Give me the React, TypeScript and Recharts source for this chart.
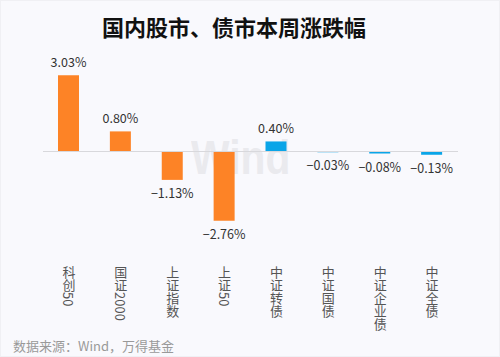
import { BarChart, Bar, XAxis, YAxis, Cell, LabelList, ReferenceLine } from 'recharts'

const categories = ['科创50', '国证2000', '上证指数', '上证50', '中证转债', '中证国债', '中证企业债', '中证全债']
const changes = [3.03, 0.8, -1.13, -2.76, 0.4, -0.03, -0.08, -0.13]
// first four are stock indexes, rest are bond indexes
const stockCount = 4

const data = categories.map((name, i) => ({ name, value: changes[i] }))

const FONT = '"Noto Sans CJK SC", "Noto Sans", sans-serif'

function VerticalTick(props: any) {
  const { x, y, payload } = props
  return (
    <text
      x={x}
      y={y + 6}
      fill="#555"
      fontSize={13}
      fontFamily={FONT}
      style={{ writingMode: 'vertical-rl' }}
    >
      {payload.value}
    </text>
  )
}

function ValueLabel(props: any) {
  const { x, y, width, height, value } = props
  const isNeg = value < 0
  const bottom = y + height
  const ty = isNeg ? Math.max(y, bottom) + 18 : Math.min(y, bottom) - 8
  const text = (isNeg ? '\u2212' : '') + Math.abs(value).toFixed(2) + '%'
  return (
    <text x={x + width / 2} y={ty} textAnchor="middle" fontSize={12.5} fill="#333" fontFamily={FONT}>
      {text}
    </text>
  )
}

export default function App() {
  return (
    <div style={{ position: 'relative', width: 500, height: 357, background: '#f9f9fd', boxSizing: 'border-box', border: '1px solid #f0f0f4' }}>
      <style>{`body{margin:0}`}</style>
      <div
        style={{
          position: 'absolute', left: 0, top: 10, width: 466, textAlign: 'center',
          fontSize: 22, fontWeight: 700, color: '#111', fontFamily: FONT, lineHeight: '30px'
        }}
      >
        国内股市、债市本周涨跌幅
      </div>
      {/* Wind watermark */}
      <div
        style={{
          position: 'absolute', left: 190, top: 139, fontSize: 48, fontWeight: 700,
          color: '#eaeaee', fontFamily: 'Arial, sans-serif', lineHeight: '36px',
          transform: 'scaleX(0.85)', transformOrigin: 'left top'
        }}
      >
        Wind
      </div>
      <div style={{ position: 'absolute', left: 0, top: 0 }}>
        <BarChart width={500} height={357} data={data} margin={{ top: 50, right: 43, left: 42, bottom: 6 }}>
          <YAxis hide domain={[-4, 4]} />
          <XAxis dataKey="name" height={100} axisLine={false} tickLine={false} interval={0} tick={<VerticalTick />} />
          <ReferenceLine y={0} stroke="#d8d8dc" />
          <Bar dataKey="value" barSize={21} isAnimationActive={false}>
            {data.map((d, i) => (
              <Cell key={d.name} fill={i < stockCount ? '#fd8326' : '#0aa5e8'} />
            ))}
            <LabelList dataKey="value" content={<ValueLabel />} />
          </Bar>
        </BarChart>
      </div>
      <div
        style={{
          position: 'absolute', left: 12, top: 336, fontSize: 13, color: '#999',
          fontFamily: FONT, lineHeight: '18px'
        }}
      >
        数据来源：Wind，万得基金
      </div>
    </div>
  )
}
